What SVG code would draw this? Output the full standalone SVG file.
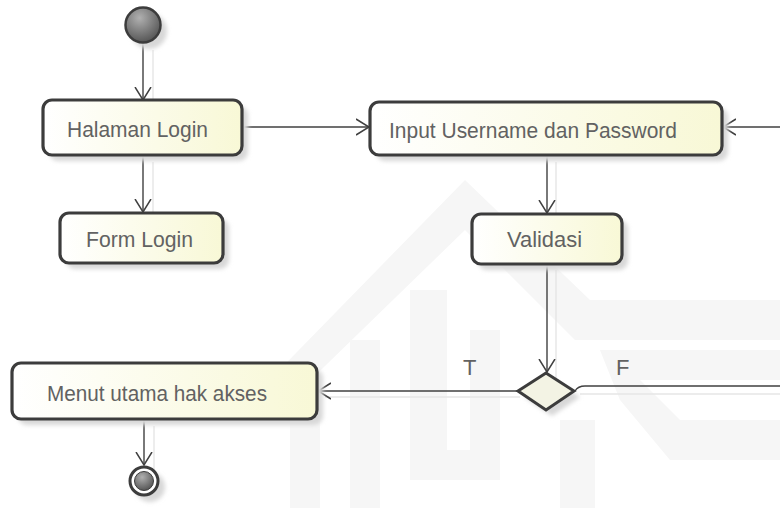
<svg xmlns="http://www.w3.org/2000/svg" width="780" height="508" viewBox="0 0 780 508">
<defs>
<linearGradient id="boxfill" x1="0" y1="0" x2="1" y2="0">
<stop offset="0" stop-color="#ffffff"/>
<stop offset="1" stop-color="#f8f8d6"/>
</linearGradient>
<radialGradient id="ball" cx="0.4" cy="0.3" r="0.75">
<stop offset="0" stop-color="#b0b0b0"/>
<stop offset="1" stop-color="#505050"/>
</radialGradient>
<filter id="blur" x="-20%" y="-20%" width="140%" height="140%">
<feGaussianBlur stdDeviation="2"/>
</filter>
<marker id="arr" viewBox="0 0 14 18" refX="13" refY="9" markerWidth="14" markerHeight="18" markerUnits="userSpaceOnUse" orient="auto">
<path d="M0,1 L13,9 L0,17" fill="none" stroke="#404040" stroke-width="1.5"/>
</marker>
</defs>
<style>
.box{fill:url(#boxfill);stroke:#3c3c3c;stroke-width:3.2}
.shadow{fill:#d8d8d8;filter:url(#blur)}
.lbl{font-family:"Liberation Sans",Arial,sans-serif;font-size:22px;fill:#626262}
.edge{fill:none;stroke:#404040;stroke-width:1.4}
.eshadow{fill:none;stroke:#e6e6e6;stroke-width:1.4}
.wm{fill:#f6f6f6}
</style>
<rect width="780" height="508" fill="#ffffff"/>
<g id="watermark">
<polygon class="wm" points="250,400 465,180 590,300 780,300 780,340 575,340 465,230 290,400"/>
<rect class="wm" x="290" y="420" width="30" height="88"/>
<rect class="wm" x="350" y="340" width="30" height="168"/>
<path class="wm" d="M410,290 L447,290 L447,450 L470,450 L470,330 L500,330 L500,480 L410,480 Z"/>
<rect class="wm" x="560" y="420" width="35" height="88"/>
<polygon class="wm" points="600,350 780,350 780,380 640,380 680,420 780,420 780,460 670,460 620,400"/>
</g>
<g id="connectors">
<line class="eshadow" x1="153" y1="50" x2="153" y2="108"/>
<line class="eshadow" x1="153" y1="162" x2="153" y2="220"/>
<line class="eshadow" x1="556" y1="162" x2="556" y2="220"/>
<line class="eshadow" x1="556" y1="270" x2="556" y2="378"/>
<line class="eshadow" x1="325" y1="397" x2="520" y2="397"/>
<line class="eshadow" x1="580" y1="394" x2="780" y2="394"/>
<line class="eshadow" x1="154" y1="426" x2="154" y2="472"/>
<line class="edge" x1="143" y1="43" x2="143" y2="100" marker-end="url(#arr)"/>
<line class="edge" x1="143" y1="155" x2="143" y2="212" marker-end="url(#arr)"/>
<line class="edge" x1="242" y1="127" x2="369" y2="127" marker-end="url(#arr)"/>
<line class="edge" x1="780" y1="127" x2="723" y2="127" marker-end="url(#arr)"/>
<line class="edge" x1="547" y1="155" x2="547" y2="213" marker-end="url(#arr)"/>
<line class="edge" x1="547" y1="264" x2="547" y2="372" marker-end="url(#arr)"/>
<line class="edge" x1="518" y1="391" x2="318" y2="391" marker-end="url(#arr)"/>
<path class="edge" d="M575,391 Q578,386 585,386 L780,386"/>
<line class="edge" x1="144" y1="419" x2="144" y2="465" marker-end="url(#arr)"/>
<text class="lbl" x="463" y="375">T</text>
<text class="lbl" x="616" y="375">F</text>
</g>
<g id="start">
<circle cx="149" cy="31" r="18" class="shadow"/>
<circle cx="143" cy="25" r="17.5" fill="url(#ball)" stroke="#3c3c3c" stroke-width="2.5"/>
</g>
<g id="halaman-login">
<rect class="shadow" x="49" y="106" width="199" height="55" rx="9"/>
<rect class="box" x="43" y="100" width="199" height="55" rx="9"/>
<text class="lbl" x="67" y="137" textLength="141" lengthAdjust="spacingAndGlyphs">Halaman Login</text>
</g>
<g id="form-login">
<rect class="shadow" x="66" y="219" width="163" height="50" rx="9"/>
<rect class="box" x="60" y="213" width="163" height="50" rx="9"/>
<text class="lbl" x="86" y="247" textLength="107" lengthAdjust="spacingAndGlyphs">Form Login</text>
</g>
<g id="input-username">
<rect class="shadow" x="376" y="108" width="352" height="53" rx="9"/>
<rect class="box" x="370" y="102" width="352" height="53" rx="9"/>
<text class="lbl" x="389" y="138" textLength="288" lengthAdjust="spacingAndGlyphs">Input Username dan Password</text>
</g>
<g id="validasi">
<rect class="shadow" x="478" y="220" width="150" height="50" rx="9"/>
<rect class="box" x="472" y="214" width="150" height="50" rx="9"/>
<text class="lbl" x="507" y="247" textLength="75" lengthAdjust="spacingAndGlyphs">Validasi</text>
</g>
<g id="decision">
<polygon class="shadow" points="552,379 580,397 552,416 524,397"/>
<polygon points="546,373 574,391 546,410 518,391" fill="#f3f3e4" stroke="#3c3c3c" stroke-width="3"/>
</g>
<g id="menu-utama">
<rect class="shadow" x="18" y="369" width="305" height="56" rx="9"/>
<rect class="box" x="12" y="363" width="305" height="56" rx="9"/>
<text class="lbl" x="47" y="401" textLength="220" lengthAdjust="spacingAndGlyphs">Menut utama hak akses</text>
</g>
<g id="end">
<circle cx="150" cy="487" r="15" class="shadow"/>
<circle cx="144" cy="481" r="14" fill="#ffffff" stroke="#3c3c3c" stroke-width="3"/>
<circle cx="144" cy="481" r="9.5" fill="url(#ball)" stroke="#3c3c3c" stroke-width="1"/>
</g>
</svg>
